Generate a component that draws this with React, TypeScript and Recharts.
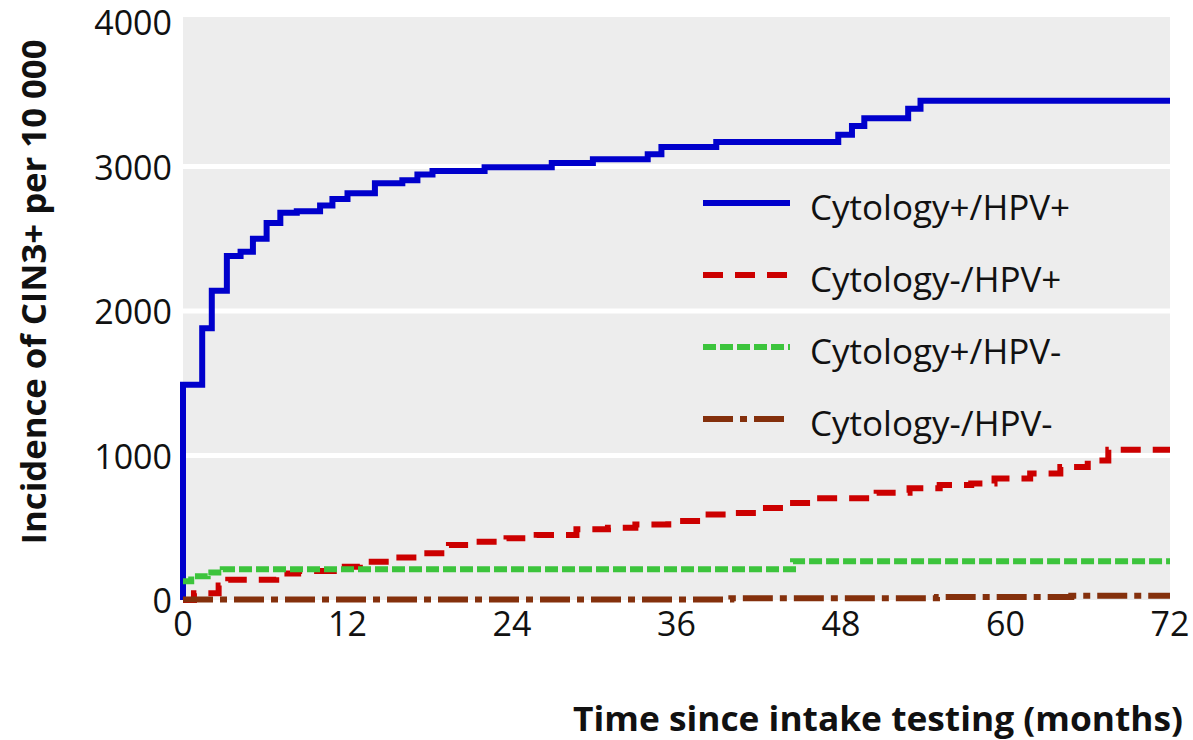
import React from 'react';
import { LineChart, Line, XAxis, YAxis, CartesianGrid, Legend } from 'recharts';

const monthTicks = [0, 12, 24, 36, 48, 60, 72];
const incidenceTicks = [0, 1000, 2000, 3000, 4000];
const gridValues = [1000, 2000, 3000];

const seriesNames = ['Cytology+/HPV+', 'Cytology-/HPV+', 'Cytology+/HPV-', 'Cytology-/HPV-'];

const posPosMonths = [0, 0, 1.4, 2.1, 3.2, 4.2, 5.1, 6.1, 7.1, 8.3, 10.0, 10.9, 12.0, 14.0, 16.0, 17.1, 18.2, 22.0, 26.9, 29.9, 33.9, 34.9, 38.9, 47.8, 48.8, 49.7, 52.9, 53.8, 72];
const posPosValues = [0, 1490, 1880, 2140, 2380, 2410, 2500, 2610, 2680, 2690, 2730, 2775, 2815, 2885, 2905, 2945, 2970, 2995, 3025, 3050, 3085, 3135, 3170, 3220, 3280, 3335, 3400, 3455, 3455];

const negPosMonths = [0, 0.8, 2.6, 3.3, 6.8, 8.4, 11.0, 12.9, 15.3, 17.4, 19.4, 21.4, 23.6, 25.8, 28.7, 31.0, 33.0, 35.4, 37.5, 39.8, 42.3, 43.8, 46.2, 50.6, 53.0, 55.2, 57.5, 59.2, 61.8, 64.0, 66.0, 67.5, 72];
const negPosValues = [0, 46, 100, 140, 184, 200, 230, 265, 295, 323, 380, 404, 427, 450, 489, 500, 523, 546, 591, 603, 637, 671, 705, 743, 773, 796, 807, 841, 875, 920, 966, 1040, 1040];

const posNegMonths = [0, 0.6, 1.8, 2.9, 44.5, 72];
const posNegValues = [130, 165, 190, 213, 268, 268];

const negNegMonths = [0, 40, 55, 64.8, 72];
const negNegValues = [4, 12, 20, 30, 30];

const toPoints = (months: number[], values: number[]) =>
  months.map((t, i) => ({ t, v: values[i] }));

const series = [
  { name: seriesNames[0], data: toPoints(posPosMonths, posPosValues), color: '#0000cc', dash: undefined as string | undefined },
  { name: seriesNames[1], data: toPoints(negPosMonths, negPosValues), color: '#cc0000', dash: '20 12' },
  { name: seriesNames[2], data: toPoints(posNegMonths, posNegValues), color: '#3cc43c', dash: '13 4' },
  { name: seriesNames[3], data: toPoints(negNegMonths, negNegValues), color: '#84300c', dash: '30 7 7 7' },
];

const FONT = '"Open Sans", "DejaVu Sans", sans-serif';

const XTick = (props: any) => {
  const { x, y, payload } = props;
  return (
    <text x={x} y={y} dy={23} textAnchor="middle" dominantBaseline="central" fontFamily={FONT} fontSize={34} fill="#111">
      {payload.value}
    </text>
  );
};

const YTick = (props: any) => {
  const { x, y, payload } = props;
  return (
    <text x={x} y={y} dx={-11} textAnchor="end" dominantBaseline="central" fontFamily={FONT} fontSize={34} fill="#111">
      {payload.value}
    </text>
  );
};

const renderLegend = () => (
  <svg width={400} height={290}>
    {series.map((s, i) => {
      const cy = 33 + i * 72;
      return (
        <g key={s.name}>
          <line x1={8} x2={95} y1={cy} y2={cy} stroke={s.color} strokeWidth={6} strokeDasharray={s.dash} />
          <text x={115} y={cy + 3} dominantBaseline="central" fontFamily={FONT} fontSize={35} fill="#111">
            {s.name}
          </text>
        </g>
      );
    })}
  </svg>
);

export default function App() {
  return (
    <div style={{ position: 'relative', width: 1193, height: 740, background: '#fff' }}>
      <style>{'body { margin: 0; }'}</style>
      <LineChart width={1193} height={740} margin={{ top: 17, right: 23, bottom: 0, left: 0 }}>
        <CartesianGrid
          vertical={false}
          horizontalValues={gridValues}
          stroke="#ffffff"
          strokeWidth={5}
          fill="#ededed"
          fillOpacity={1}
        />
        <XAxis
          dataKey="t"
          type="number"
          domain={[0, 72]}
          ticks={monthTicks}
          axisLine={false}
          tickLine={false}
          tickSize={0}
          tickMargin={0}
          height={140}
          tick={<XTick />}
          allowDuplicatedCategory
        />
        <YAxis
          type="number"
          domain={[0, 4035]}
          ticks={incidenceTicks}
          axisLine={false}
          tickLine={false}
          tickSize={0}
          tickMargin={0}
          width={183}
          tick={<YTick />}
        />
        <Legend
          layout="vertical"
          align="center"
          verticalAlign="middle"
          content={renderLegend}
          wrapperStyle={{ position: 'absolute', top: 170, left: 695, width: 400, height: 290 }}
        />
        {series.map((s) => (
          <Line
            key={s.name}
            data={s.data}
            dataKey="v"
            name={s.name}
            type="stepAfter"
            stroke={s.color}
            strokeWidth={6}
            strokeDasharray={s.dash}
            dot={false}
            activeDot={false}
            isAnimationActive={false}
          />
        ))}
      </LineChart>
      <svg width={1193} height={740} style={{ position: 'absolute', left: 0, top: 0, pointerEvents: 'none' }}>
        <text
          transform="translate(33 292) rotate(-90)"
          textAnchor="middle"
          dominantBaseline="central"
          fontFamily={FONT}
          fontWeight={700}
          fontSize={34}
          fill="#111"
          textLength={505}
          lengthAdjust="spacingAndGlyphs"
        >
          Incidence of CIN3+ per 10 000
        </text>
        <text
          x={878}
          y={718}
          textAnchor="middle"
          dominantBaseline="central"
          fontFamily={FONT}
          fontWeight={700}
          fontSize={34}
          fill="#111"
          textLength={610}
          lengthAdjust="spacingAndGlyphs"
        >
          Time since intake testing (months)
        </text>
      </svg>
    </div>
  );
}
